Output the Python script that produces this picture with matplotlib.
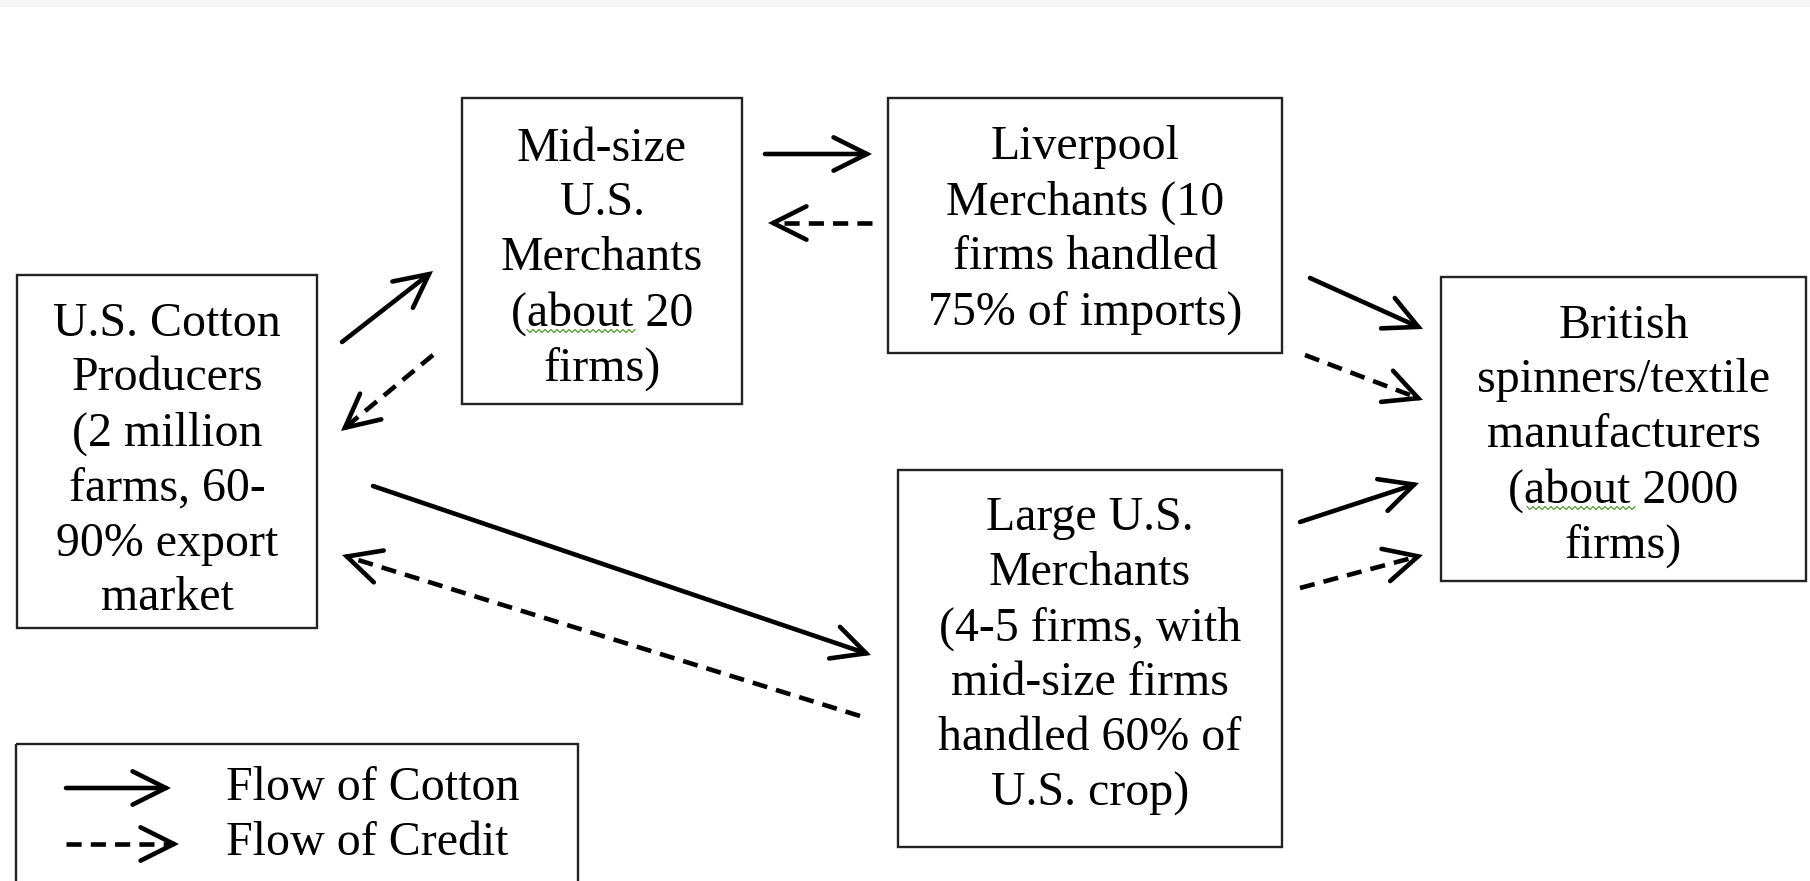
import numpy as np
import matplotlib
matplotlib.use("Agg")
import matplotlib.pyplot as plt
from matplotlib.patches import Rectangle, FancyArrowPatch

W, H = 1810, 881

# box labels and their frames (left, top, right, bottom) in pixel space
labels = [
    "U.S. Cotton\nProducers\n(2 million\nfarms, 60-\n90% export\nmarket",
    "Mid-size\nU.S.\nMerchants\n(about 20\nfirms)",
    "Liverpool\nMerchants (10\nfirms handled\n75% of imports)",
    "Large U.S.\nMerchants\n(4-5 firms, with\nmid-size firms\nhandled 60% of\nU.S. crop)",
    "British\nspinners/textile\nmanufacturers\n(about 2000\nfirms)",
]
frames = [
    (17, 275, 317, 628),
    (462, 98, 742, 404),
    (888, 98, 1282, 353),
    (898, 470, 1282, 847),
    (1441, 277, 1806, 581),
]
text_y = [461, 259, 230, 656, 436]

# flows: (start, end)
cotton = [
    ((342, 342), (433, 271)),
    ((765, 154), (872, 154)),
    ((1310, 278), (1423, 329)),
    ((1300, 522), (1419, 483)),
    ((373, 486), (871, 655)),
]
credit = [
    ((433, 355), (341, 431)),
    ((872, 223), (768, 223)),
    ((1305, 355), (1423, 400)),
    ((1300, 588), (1423, 555)),
    ((860, 716), (342, 555)),
]

legend_items = ["Flow of Cotton", "Flow of Credit"]

LW = 3.3
HEAD = "->,head_length=24,head_width=12"
DASH = (0, (3.3, 2.0))

fig = plt.figure(figsize=(W / 100, H / 100), dpi=100)
ax = fig.add_axes([0, 0, 1, 1])
ax.set_xlim(0, W)
ax.set_ylim(H, 0)
ax.axis("off")
plt.rcParams["font.family"] = ["Liberation Serif", "DejaVu Serif"]

ax.add_patch(Rectangle((0, 0), W, 7, color="#f6f6f6", lw=0))


def arrow(p0, p1, dashed=False):
    p0 = np.array(p0, float)
    p1 = np.array(p1, float)
    if dashed:
        d = (p1 - p0) / np.hypot(*(p1 - p0))
        q = p1 - d * 8
        ax.plot([p0[0], q[0]], [p0[1], q[1]], color="black", lw=LW,
                linestyle=DASH, solid_capstyle="butt")
        p0 = q
    ax.add_patch(FancyArrowPatch(tuple(p0), tuple(p1), arrowstyle=HEAD,
                                 mutation_scale=1, lw=LW, color="black",
                                 shrinkA=0, shrinkB=0, capstyle="round",
                                 joinstyle="miter"))


for txt, (l, t, r, b), ty in zip(labels, frames, text_y):
    ax.add_patch(Rectangle((l, t), r - l, b - t, fill=False,
                           edgecolor="#222222", lw=1.7))
    ax.text((l + r) / 2, ty, txt, ha="center", va="center",
            multialignment="center", fontsize=34.5, linespacing=1.32)

for p0, p1 in cotton:
    arrow(p0, p1)
for p0, p1 in credit:
    arrow(p0, p1, dashed=True)

# spell-check squiggles under "about"
for x0, x1, y in [(527, 635, 331), (1527, 1635, 508)]:
    xs = np.arange(x0, x1 + 1, 3)
    ys = y + np.where(np.arange(len(xs)) % 2 == 0, -1.5, 1.5)
    ax.plot(xs, ys, color="#4e9a2e", lw=0.9)

# legend
ax.add_patch(Rectangle((16, 744), 562, 160, fill=False,
                       edgecolor="#222222", lw=1.7, clip_on=False))
arrow((66, 788), (171, 788))
arrow((66, 844), (179, 844), dashed=True)
for txt, y in zip(legend_items, [788, 843]):
    ax.text(226, y, txt, ha="left", va="center", fontsize=34.5)

fig.savefig("out.png", dpi=100)
